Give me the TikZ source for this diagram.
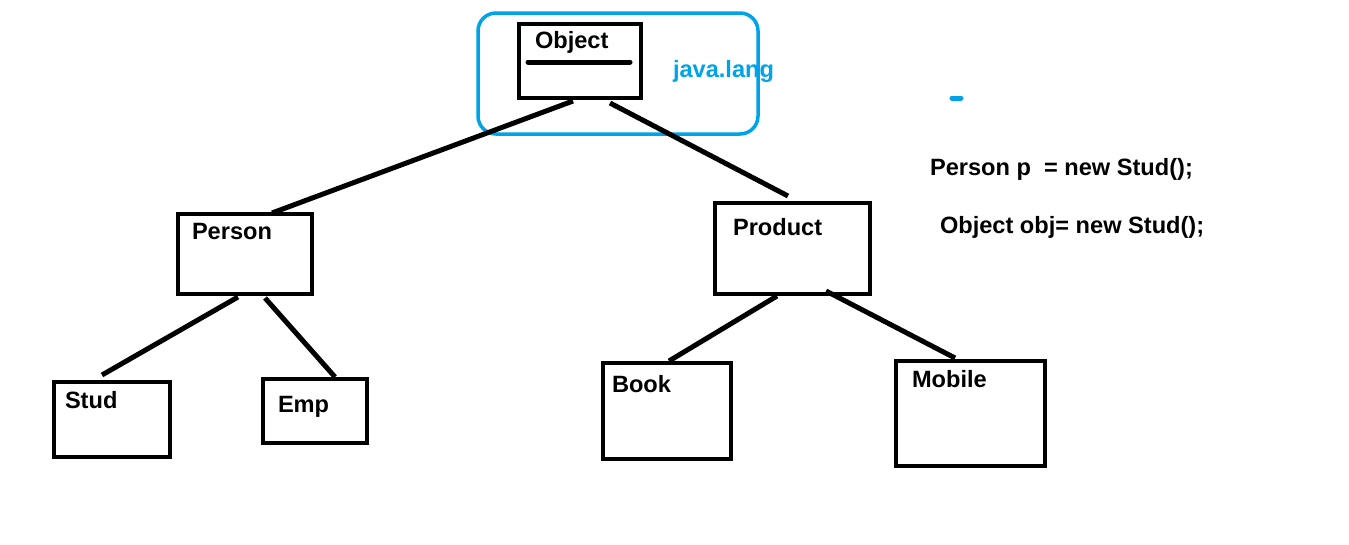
\documentclass[tikz,border=0pt]{standalone}
\usepackage{fontspec}
\setmainfont{Liberation Sans}
\usetikzlibrary{calc}
\definecolor{paintblue}{RGB}{0,162,232}
\begin{document}
\begin{tikzpicture}[x=1pt,y=-1pt,
  box/.style={draw=black,line width=4.5pt,rectangle,inner sep=0pt,outer sep=0pt,anchor=north west},
  lbl/.style={inner sep=0pt,outer sep=0pt,anchor=base west,font=\fontsize{23.6}{27}\selectfont\bfseries},
  conn/.style={draw=black,line width=5pt}]
\useasboundingbox[fill=white] (0,0) rectangle (1349,544);
% package frame
\draw[paintblue,line width=3.5pt,rounded corners=18pt] (478,13) rectangle (758,134);
% boxes
\node[box,minimum width=122pt,minimum height=74pt] (obj) at (519,24) {};
\node[box,minimum width=134pt,minimum height=80pt] (per) at (178,214) {};
\node[box,minimum width=155pt,minimum height=91pt] (prod) at (715,203) {};
\node[box,minimum width=116pt,minimum height=75pt] (stud) at (54,382) {};
\node[box,minimum width=104pt,minimum height=64pt] (emp) at (263,379) {};
\node[box,minimum width=128pt,minimum height=96pt] (book) at (603,363) {};
\node[box,minimum width=149pt,minimum height=105pt] (mob) at (896,361) {};
% divider in Object
\draw[line width=5pt,line cap=round] ($(obj.west)+(9,1)$) -- ($(obj.east)+(-11,1)$);
% labels
\node[lbl] (objt) at (535,48) {Object};
\node[lbl,text=paintblue] (pkg) at (673,77) {java.lang};
\node[lbl] (pert) at (192,239) {Person};
\node[lbl] (prodt) at (733,235) {Product};
\node[lbl] (studt) at (65,408) {Stud};
\node[lbl] (empt) at (278,412) {Emp};
\node[lbl] (bookt) at (612,392) {Book};
\node[lbl] (mobt) at (912,387) {Mobile};
\node[lbl] (code1) at (930,175) {Person p\ \ = new Stud();};
\node[lbl] (code2) at (940,233) {Object obj= new Stud();};
% blue dash
\coordinate (dashA) at (952,98);
\coordinate (dashB) at (961,98);
\draw[paintblue,line width=5pt,line cap=round] (dashA) -- (dashB);
% connectors
\draw[conn] ($(obj.south west)+(54,3)$) -- ($(per.north west)+(94,-1)$);
\draw[conn] ($(obj.south west)+(91,5)$) -- ($(prod.north west)+(73,-7)$);
\draw[conn] ($(per.south west)+(60,3)$) -- ($(stud.north west)+(48,-7)$);
\draw[conn] ($(per.south west)+(87,4)$) -- ($(emp.north west)+(72,-2)$);
\draw[conn] ($(prod.south west)+(62,2)$) -- ($(book.north west)+(66,-2)$);
\draw[conn] ($(prod.south west)+(111,-3)$) -- ($(mob.north west)+(59,-3)$);
\end{tikzpicture}
\end{document}
